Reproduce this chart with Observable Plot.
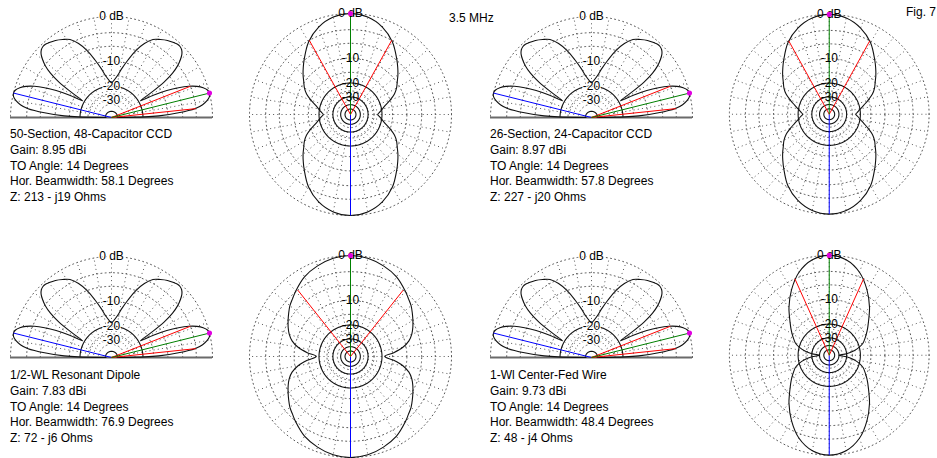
<!DOCTYPE html>
<html><head><meta charset="utf-8">
<script src="https://cdn.jsdelivr.net/npm/d3@7"></script>
<script src="https://cdn.jsdelivr.net/npm/@observablehq/plot@0.6"></script>
<style>
html,body{margin:0;padding:0;background:#fff;}
body{width:937px;height:458px;position:relative;overflow:hidden;font-family:Arial,"Liberation Sans",sans-serif;}
.panel{position:absolute;}
.panel svg{display:block;overflow:visible;}
.txt{position:absolute;font-size:12px;line-height:15.75px;color:#000;white-space:pre;}
</style></head>
<body>
<script>
// ---------------- DATA ----------------
const freqLabel = "3.5 MHz";
const figLabel = "Fig. 7";
const antennaNames = ["50-Section, 48-Capacitor CCD", "26-Section, 24-Capacitor CCD", "1/2-WL Resonant Dipole", "1-Wl Center-Fed Wire"];
const gainsDbi = ["8.95", "8.97", "7.83", "9.73"];
const toAnglesDeg = [14, 14, 14, 14];
const horBeamwidths = ["58.1", "57.8", "76.9", "48.4"];
const impedances = ["213 - j19", "227 - j20", "72 - j6", "48 - j4"];

// elevation pattern (normalized dB) vs elevation angle, 0-90 deg (pattern is symmetric about zenith)
const elevAngles = [0, 1, 2, 4, 6, 8, 10, 12, 14, 16, 18, 20, 22, 24, 26, 28, 30, 32, 34, 36, 38, 40, 42, 44, 46, 48, 50, 54, 58, 62, 66, 70, 74, 78, 82, 86, 90];
const elevDb = [-50, -19, -13, -7, -3.2, -1.6, -0.7, -0.15, 0, -0.2, -0.8, -1.8, -3.3, -5.5, -8.5, -13, -19, -13.5, -8, -5, -3.2, -2, -1.1, -0.6, -0.4, -0.4, -0.6, -1.0, -1.6, -2.3, -3.8, -6, -9, -12, -15, -17, -18.3];
const elevHalfPowerAngles = [6, 21.6];

// azimuth pattern (normalized dB) vs azimuth offset from broadside, 0-90 deg (symmetric in 4 quadrants)
const azAngles = [0, 10, 20, 30, 40, 45, 50, 55, 60, 65, 70, 75, 80, 85, 90];
const azDbCcd50 = [0, -0.35, -1.4, -3.2, -5.8, -7.1, -8.4, -9.8, -11, -12.6, -15, -17.6, -19.5, -21.1, -22.5];
const azDbCcd26 = [0, -0.36, -1.45, -3.25, -5.9, -7.2, -8.5, -9.9, -11.1, -12.7, -15.1, -17.5, -19.6, -21.3, -22.7];
const azDbDipole = [0, -0.2, -0.8, -1.6, -2.9, -3.6, -4.2, -5, -5.8, -6.6, -7.5, -8.8, -11, -14.5, -18.6];
const azDbWire = [0, -0.5, -2.1, -4.8, -8.0, -9.8, -11.5, -13, -14.5, -16, -17.5, -20, -24, -30, -40];

// grid
const dottedRingsDb = [0, -3, -6, -10, -15, -25, -35];
const solidRingsAzDb = [-20, -30, -40, -50];
const solidRingsElDb = [-20, -48];
const ringLabels = [{db: 0, t: "0 dB"}, {db: -10, t: "-10"}, {db: -20, t: "-20"}, {db: -30, t: "-30"}];
const radialStepDeg = 10;

// ---------------- HELPERS ----------------
const R = 101;                       // outer ring radius in px
const lvl = db => Math.pow(0.89, -db / 2); // ARRL log scale, fraction of outer radius
const rad = d => d * Math.PI / 180;

function makePlot(W, H, cxp, cyp, marks) {
  return Plot.plot({
    width: W, height: H, margin: 0,
    x: {domain: [-cxp / R, (W - cxp) / R], range: [0, W], axis: null},
    y: {domain: [-(H - cyp) / R, cyp / R], range: [H, 0], axis: null},
    style: {background: "transparent", fontFamily: "Arial, 'Liberation Sans', sans-serif", fontSize: "12px", overflow: "visible"},
    marks
  });
}

function place(node, left, top) {
  const d = document.createElement("div");
  d.className = "panel";
  d.style.left = left + "px"; d.style.top = top + "px";
  d.appendChild(node);
  document.body.appendChild(d);
}

function ringPts(dbs, a0, a1) {
  const out = [];
  for (const db of dbs) for (let a = a0; a <= a1; a += 1) {
    const r = lvl(db);
    out.push({ring: db, x: r * Math.cos(rad(a)), y: r * Math.sin(rad(a))});
  }
  return out;
}

function radials(a0, a1) {
  const out = [];
  const rin = lvl(-30), rout = lvl(0);
  for (let a = a0; a <= a1; a += radialStepDeg)
    out.push({x1: rin * Math.cos(rad(a)), y1: rin * Math.sin(rad(a)), x2: rout * Math.cos(rad(a)), y2: rout * Math.sin(rad(a))});
  return out;
}

const dotted = {stroke: "#555", strokeWidth: 1, strokeDasharray: "1,3.2"};

function elevationPanel(cx, cy) {
  const W = 226, H = 120, cxp = 113, cyp = 115;
  const pts = [];
  elevAngles.forEach((a, i) => { const r = lvl(elevDb[i]); pts.push({a, x: r * Math.cos(rad(a)), y: r * Math.sin(rad(a))}); });
  for (let i = elevAngles.length - 2; i >= 0; i--) {
    const a = 180 - elevAngles[i], r = lvl(elevDb[i]);
    pts.push({a, x: r * Math.cos(rad(a)), y: r * Math.sin(rad(a))});
  }
  const peakA = toAnglesDeg[0];
  const tip = a => ({x1: 0, y1: 0, x2: Math.cos(rad(a)), y2: Math.sin(rad(a))});
  const hp = elevHalfPowerAngles.map(a => { const r = lvl(-3); return {x1: 0, y1: 0, x2: r * Math.cos(rad(a)), y2: r * Math.sin(rad(a))}; });
  const marks = [
    Plot.line(ringPts(dottedRingsDb, 0, 180), {x: "x", y: "y", z: "ring", ...dotted}),
    Plot.link(radials(0, 180), {x1: "x1", y1: "y1", x2: "x2", y2: "y2", ...dotted}),
    Plot.line(ringPts(solidRingsElDb, 0, 180), {x: "x", y: "y", z: "ring", stroke: "#111", strokeWidth: 1.1}),
    Plot.ruleY([0], {x1: -1.0, x2: 1.0, stroke: "#6a6a6a", strokeWidth: 2}),
    Plot.text(ringLabels, {x: 0, y: d => lvl(d.db), text: "t", fill: "#000", stroke: "#fff", strokeWidth: 2, fontSize: 12}),
    Plot.line(pts, {x: "x", y: "y", curve: "catmull-rom", stroke: "#111", strokeWidth: 1.1}),
    Plot.link([tip(180 - peakA)], {x1: "x1", y1: "y1", x2: "x2", y2: "y2", stroke: "#0000ff", strokeWidth: 1}),
    Plot.link(hp, {x1: "x1", y1: "y1", x2: "x2", y2: "y2", stroke: "#ff0000", strokeWidth: 1}),
    Plot.link([tip(peakA)], {x1: "x1", y1: "y1", x2: "x2", y2: "y2", stroke: "#008000", strokeWidth: 1}),
    Plot.dot([tip(peakA)], {x: "x2", y: "y2", r: 1.8, fill: "#e000e0", stroke: "#e000e0"})
  ];
  place(makePlot(W, H, cxp, cyp, marks), cx - cxp, cy - cyp);
}

function azimuthPanel(cx, cy, azDb, bw) {
  const W = 220, H = 220, cxp = 110, cyp = 110;
  const m = new Map();
  azAngles.forEach((a, i) => {
    for (const p of [a, 180 - a, 180 + a, 360 - a]) if (p < 360) m.set(p, azDb[i]);
  });
  const pts = [...m.entries()].sort((u, v) => u[0] - v[0]).map(([p, db]) => {
    const r = lvl(db); return {x: r * Math.sin(rad(p)), y: r * Math.cos(rad(p))};
  });
  const half = bw / 2, r3 = lvl(-3);
  const hp = [half, -half].map(a => ({x1: 0, y1: 0, x2: r3 * Math.sin(rad(a)), y2: r3 * Math.cos(rad(a))}));
  const marks = [
    Plot.line(ringPts(dottedRingsDb, 0, 360), {x: "x", y: "y", z: "ring", ...dotted}),
    Plot.link(radials(0, 350), {x1: "x1", y1: "y1", x2: "x2", y2: "y2", ...dotted}),
    Plot.line(ringPts(solidRingsAzDb, 0, 360), {x: "x", y: "y", z: "ring", stroke: "#111", strokeWidth: 1.1}),
    Plot.line(pts, {x: "x", y: "y", curve: "catmull-rom-closed", stroke: "#111", strokeWidth: 1.1}),
    Plot.link([{x1: 0, y1: 0, x2: 0, y2: -1}], {x1: "x1", y1: "y1", x2: "x2", y2: "y2", stroke: "#0000ff", strokeWidth: 1}),
    Plot.link(hp, {x1: "x1", y1: "y1", x2: "x2", y2: "y2", stroke: "#ff0000", strokeWidth: 1}),
    Plot.link([{x1: 0, y1: 0, x2: 0, y2: 1}], {x1: "x1", y1: "y1", x2: "x2", y2: "y2", stroke: "#008000", strokeWidth: 1}),
    Plot.text(ringLabels, {x: 0, y: d => lvl(d.db), text: d => d.t, fill: "#000", fontSize: 12}),
    Plot.dot([{x: 0, y: 1}], {x: "x", y: "y", r: 1.8, fill: "#e000e0", stroke: "#e000e0"})
  ];
  place(makePlot(W, H, cxp, cyp, marks), cx - cxp, cy - cyp);
}

function textBlock(i, left, top) {
  const d = document.createElement("div");
  d.className = "txt";
  d.style.left = left + "px"; d.style.top = top + "px";
  d.textContent = [antennaNames[i], "Gain: " + gainsDbi[i] + " dBi", "TO Angle: " + toAnglesDeg[i] + " Degrees",
    "Hor. Beamwidth: " + horBeamwidths[i] + " Degrees", "Z: " + impedances[i] + " Ohms"].join("\n");
  document.body.appendChild(d);
}

// ---------------- LAYOUT ----------------
const azData = [azDbCcd50, azDbCcd26, azDbDipole, azDbWire];
const cells = [
  {ex: 110.5, ey: 116.5, ax: 349.5, ay: 114, tx: 10, ty: 127},
  {ex: 590.5, ey: 116.5, ax: 829.5, ay: 114.5, tx: 490, ty: 127},
  {ex: 110.5, ey: 357, ax: 349.5, ay: 355.5, tx: 10, ty: 368},
  {ex: 590.5, ey: 357, ax: 829.5, ay: 355.5, tx: 490, ty: 368}
];
cells.forEach((c, i) => {
  elevationPanel(c.ex, c.ey);
  azimuthPanel(c.ax, c.ay, azData[i], parseFloat(horBeamwidths[i]));
  textBlock(i, c.tx, c.ty);
});

const f = document.createElement("div");
f.className = "txt"; f.style.left = "449px"; f.style.top = "11px"; f.textContent = freqLabel;
document.body.appendChild(f);
const g = document.createElement("div");
g.className = "txt"; g.style.left = "906px"; g.style.top = "5px"; g.textContent = figLabel;
document.body.appendChild(g);
</script>
</body></html>
